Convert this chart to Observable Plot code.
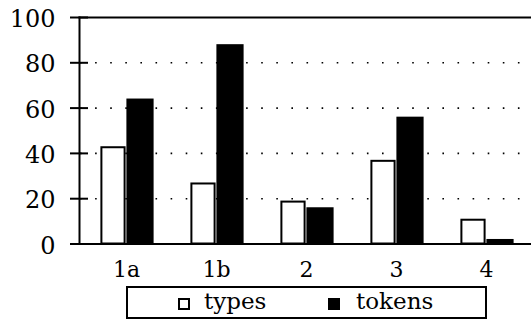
<!DOCTYPE html>
<html>
<head>
<meta charset="utf-8">
<script src="https://cdn.jsdelivr.net/npm/d3@7"></script>
<script src="https://cdn.jsdelivr.net/npm/@observablehq/plot@0.6"></script>
<style>
  html, body { margin: 0; padding: 0; background: #fff; }
  body { position: relative; width: 531px; height: 322px; overflow: hidden; font-family: 'DejaVu Serif', serif; }
  #chart { position: absolute; left: 0; top: 0; }
  .lg-box { position: absolute; left: 126px; top: 286px; width: 361px; height: 33px; border: 2px solid #000; box-sizing: border-box; }
  .lg-sw { position: absolute; width: 12px; height: 12px; box-sizing: border-box; }
  .lg-tx { position: absolute; font-family: 'DejaVu Serif', serif; font-size: 23px; line-height: 23px; color: #000; white-space: nowrap; }
</style>
</head>
<body>
<div id="chart"></div>
<div class="lg-box"></div>
<div class="lg-sw" style="left:178px; top:298px; border:2px solid #000; background:#fff;"></div>
<div class="lg-tx" style="left:204px; top:290px;">types</div>
<div class="lg-sw" style="left:328px; top:298px; background:#000;"></div>
<div class="lg-tx" style="left:356px; top:290px;">tokens</div>
<script>
const categories = ["1a", "1b", "2", "3", "4"];
const typesValues = [42.5, 26.5, 18.5, 36.5, 10.5];
const tokensValues = [64, 88, 16, 56, 2];
const yTicks = [0, 20, 40, 60, 80, 100];
const gridValues = [20, 40, 60, 80];

const typesData = categories.map((c, i) => ({category: c, value: typesValues[i]}));
const tokensData = categories.map((c, i) => ({category: c, value: tokensValues[i]}));

const serif = "DejaVu Serif";

const chart = Plot.plot({
  width: 531,
  height: 282,
  marginLeft: 79,
  marginRight: -2,
  marginTop: 17,
  marginBottom: 38.5,
  style: {fontFamily: serif, color: "#000", background: "transparent", overflow: "visible"},
  x: {domain: categories, padding: 0, axis: null},
  y: {domain: [0, 100], axis: null},
  marks: [
    Plot.ruleY(gridValues, {stroke: "#000", strokeWidth: 1.6, strokeDasharray: "1.6 13.5", strokeDashoffset: -1}),
    Plot.barY(typesData, {x: "category", y: "value", fill: "#fff", stroke: "#000", strokeWidth: 2, insetLeft: 20.4, insetRight: 46.4}),
    Plot.barY(tokensData, {x: "category", y: "value", fill: "#000", insetLeft: 45.4, insetRight: 17.4}),
    Plot.frame({anchor: "left", stroke: "#000", strokeWidth: 2}),
    Plot.frame({anchor: "top", stroke: "#000", strokeWidth: 2}),
    Plot.frame({anchor: "bottom", stroke: "#000", strokeWidth: 2}),
    Plot.axisY({ticks: yTicks, tickSize: 18, dx: 9, strokeWidth: 2, stroke: "#000", fill: "none", tickFormat: () => "", label: null}),
    Plot.axisY({ticks: yTicks, tickSize: 0, tickPadding: 24, dy: 2, fontSize: 24, fontFamily: serif, fill: "#000", label: null}),
    Plot.axisX({tickSize: 0, tickPadding: 17.5, fontSize: 22, fontFamily: serif, fill: "#000", label: null})
  ]
});

document.getElementById("chart").appendChild(chart);
</script>
</body>
</html>
